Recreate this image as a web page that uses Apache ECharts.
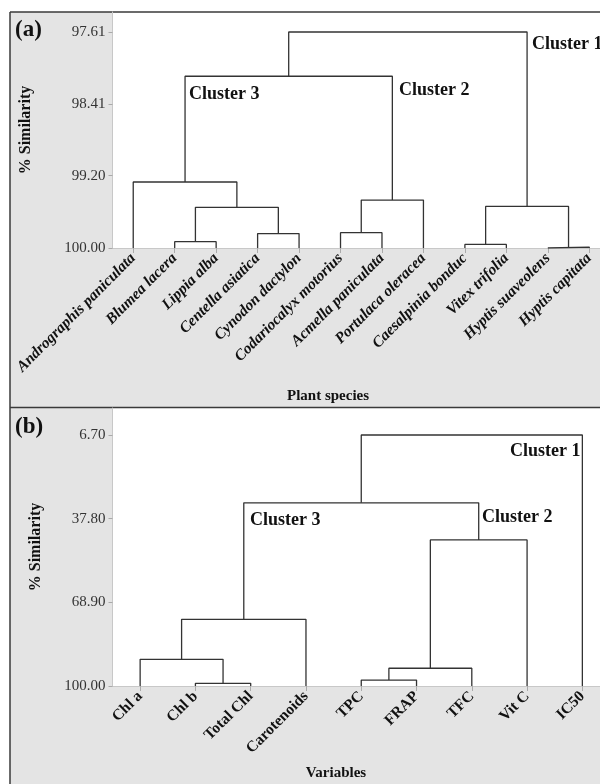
<!DOCTYPE html>
<html><head><meta charset="utf-8">
<script src="https://cdn.jsdelivr.net/npm/echarts@6/dist/echarts.min.js"></script>
<style>html,body{margin:0;padding:0;background:#fff;overflow:hidden}#c{width:620px;height:784px}</style>
</head><body><div id="c"></div>
<script>
// ---------- Panel (a): plant species ----------
const speciesA = ['Andrographis paniculata','Blumea lacera','Lippia alba','Centella asiatica','Cynodon dactylon','Codariocalyx motorius','Acmella paniculata','Portulaca oleracea','Caesalpinia bonduc','Vitex trifolia','Hyptis suaveolens','Hyptis capitata'];
// merge nodes numbered after the leaves (12, 13, ...)
const mergeLeftA   = [10, 8, 1, 3, 5, 16, 14, 0, 13, 19, 21];
const mergeRightA  = [11, 9, 2, 4, 6, 7, 15, 18, 12, 17, 20];
const mergeHeightA = [99.99, 99.96, 99.93, 99.84, 99.83, 99.47, 99.55, 99.27, 99.54, 98.10, 97.61];
const ticksA = [97.61, 98.41, 99.20, 100.00];

// ---------- Panel (b): variables ----------
const varsB = ['Chl a','Chl b','Total Chl','Carotenoids','TPC','FRAP','TFC','Vit C','IC50'];
const mergeLeftB   = [1, 4, 10, 0, 12, 11, 13, 15];
const mergeRightB  = [2, 5, 6, 9, 3, 7, 14, 8];
const mergeHeightB = [99.0, 97.8, 93.4, 90.1, 75.2, 45.7, 31.9, 6.70];
const ticksB = [6.70, 37.80, 68.90, 100.00];

const LEAF = 100;
const SERIF = "'Liberation Serif','Times New Roman',serif";

function links(n, L, R, H) {
  const xs = [], hs = [], segs = [];
  for (let i = 0; i < n; i++) { xs[i] = i; hs[i] = LEAF; }
  for (let k = 0; k < H.length; k++) {
    const id = n + k, a = L[k], b = R[k];
    xs[id] = (xs[a] + xs[b]) / 2; hs[id] = H[k];
    segs.push([[xs[a], hs[a]], [xs[a], H[k]], [xs[b], H[k]], [xs[b], hs[b]]]);
  }
  return segs;
}

const series = [];
links(speciesA.length, mergeLeftA, mergeRightA, mergeHeightA).forEach(s => series.push({
  type: 'line', xAxisIndex: 0, yAxisIndex: 0, data: s, symbol: 'none', silent: true, animation: false,
  lineStyle: { color: '#333', width: 1.3 }
}));
links(varsB.length, mergeLeftB, mergeRightB, mergeHeightB).forEach(s => series.push({
  type: 'line', xAxisIndex: 1, yAxisIndex: 1, data: s, symbol: 'none', silent: true, animation: false,
  lineStyle: { color: '#333', width: 1.3 }
}));

function xAx(gi, names, italic) {
  const idx = names.map((_, i) => i);
  return {
    type: 'value', gridIndex: gi, min: -0.5, max: names.length - 0.5, position: 'bottom',
    splitLine: { show: false },
    axisLine: { show: true, onZero: false, lineStyle: { color: '#c8c8c8', width: 1 } },
    axisTick: { show: true, customValues: idx, length: 5, lineStyle: { color: '#aaa' } },
    axisLabel: { customValues: idx, formatter: v => names[Math.round(v)], rotate: 45, margin: 8,
      fontFamily: SERIF, fontSize: 15.5, fontWeight: 'bold', fontStyle: italic ? 'italic' : 'normal', color: '#111' }
  };
}
function yAx(gi, min, ticks, gap) {
  return {
    type: 'value', gridIndex: gi, inverse: true, min: min, max: 100, position: 'left',
    name: '% Similarity', nameLocation: 'middle', nameGap: gap,
    nameTextStyle: { fontFamily: SERIF, fontSize: 16, fontWeight: 'bold', color: '#111' },
    splitLine: { show: false },
    axisLine: { show: true, onZero: false, lineStyle: { color: '#c8c8c8', width: 1 } },
    axisTick: { show: true, customValues: ticks, length: 4, lineStyle: { color: '#aaa' } },
    axisLabel: { customValues: ticks, formatter: v => v.toFixed(2), margin: 7,
      fontFamily: SERIF, fontSize: 15, color: '#333' }
  };
}

function txt(x, y, s, size, align) {
  return { type: 'text', x: x, y: y, style: { text: s, fontFamily: SERIF, fontWeight: 'bold',
    fontSize: size, fill: '#111', align: align || 'left', verticalAlign: 'middle' } };
}
const B = { stroke: '#3a3a3a', lineWidth: 1.5 };

const option = {
  backgroundColor: '#e4e4e4',
  animation: false,
  grid: [
    { left: 112.5, top: 12, width: 497.5, height: 236, show: true, backgroundColor: '#fff', borderWidth: 0 },
    { left: 112.5, top: 408, width: 497.5, height: 278, show: true, backgroundColor: '#fff', borderWidth: 0 }
  ],
  xAxis: [xAx(0, speciesA, true), xAx(1, varsB, false)],
  yAxis: [yAx(0, 97.389, ticksA, 79), yAx(1, -3.34, ticksB, 69)],
  series: series,
  graphic: [
    { type: 'rect', shape: { x: 0, y: 0, width: 620, height: 12 }, style: { fill: '#fff' } },
    { type: 'rect', shape: { x: 0, y: 0, width: 10, height: 784 }, style: { fill: '#fff' } },
    { type: 'line', shape: { x1: 10, y1: 12, x2: 620, y2: 12 }, style: B },
    { type: 'line', shape: { x1: 10, y1: 12, x2: 10, y2: 784 }, style: B },
    { type: 'line', shape: { x1: 10, y1: 407.5, x2: 620, y2: 407.5 }, style: B },
    txt(15, 30, '(a)', 23), txt(15, 427, '(b)', 23),
    txt(328, 396, 'Plant species', 15, 'center'),
    txt(336, 773, 'Variables', 15, 'center'),
    txt(189, 94, 'Cluster 3', 18), txt(399, 90, 'Cluster 2', 18), txt(532, 44, 'Cluster 1', 18),
    txt(250, 520, 'Cluster 3', 18), txt(482, 517, 'Cluster 2', 18), txt(510, 451, 'Cluster 1', 18)
  ]
};
echarts.init(document.getElementById('c')).setOption(option);
</script></body></html>
